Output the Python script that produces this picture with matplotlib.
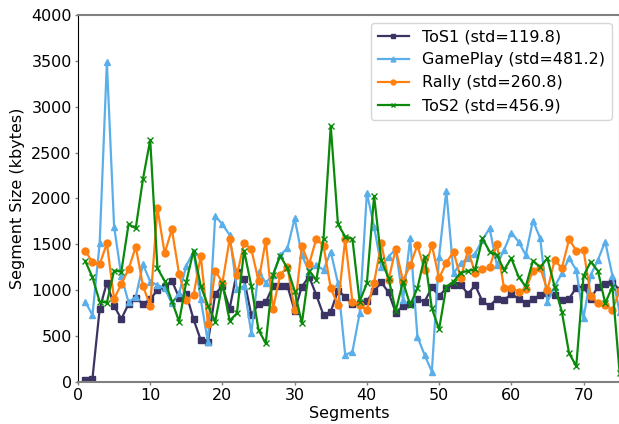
import numpy as np
import matplotlib
matplotlib.use("Agg")
import matplotlib.pyplot as plt

segments = list(range(1, 76))

tos1 = [20, 35, 796, 1083, 828, 687, 850, 919, 850, 900,
        1003, 1039, 1104, 919, 959, 683, 458, 432, 959, 1046,
        799, 1199, 1119, 730, 850, 868, 1046, 1046, 1046, 777,
        1039, 1148, 948, 727, 767, 995, 930, 846, 846, 883,
        992, 1086, 977, 756, 828, 850, 901, 876, 1032, 937,
        1020, 1061, 1061, 959, 1054, 879, 828, 908, 890, 962,
        908, 861, 901, 950, 973, 950, 894, 908, 1028, 1039,
        908, 1039, 1072, 1090, 1000]

gameplay = [876, 730, 1511, 3484, 1693, 1155, 868, 930, 1282, 1094,
            1057, 1021, 857, 966, 1268, 1420, 901, 432, 1809, 1718,
            1602, 1010, 1046, 530, 1203, 1083, 1166, 1384, 1457, 1784,
            1384, 1203, 1275, 1221, 1421, 1075, 294, 330, 749, 2060,
            1693, 1257, 1366, 1446, 894, 1566, 494, 294, 113, 1366,
            2085, 1185, 1293, 1348, 1400, 1548, 1675, 1275, 1439, 1628,
            1530, 1384, 1758, 1566, 875, 1039, 1185, 1348, 1221, 694,
            1166, 1330, 1530, 1160, 760]

rally = [1431, 1304, 1282, 1511, 905, 1068, 1228, 1475, 1046, 832,
         1893, 1402, 1664, 1177, 894, 948, 1373, 632, 1213, 1083,
         1555, 1163, 1511, 1446, 1101, 1540, 796, 1166, 1257, 785,
         1482, 1282, 1562, 1482, 1021, 839, 1555, 876, 839, 785,
         1083, 1511, 1112, 1453, 1101, 1275, 1490, 1221, 1493, 1130,
         1300, 1421, 1130, 1439, 1185, 1228, 1250, 1504, 1021, 1028,
         984, 1014, 1210, 1246, 1000, 1330, 1239, 1555, 1432, 1439,
         937, 858, 840, 785, 995]

tos2 = [1319, 1141, 876, 865, 1213, 1203, 1718, 1675, 2212, 2638,
        1239, 1101, 883, 658, 1094, 1431, 1046, 832, 658, 1075,
        668, 748, 1431, 1046, 567, 421, 1166, 1377, 1239, 992,
        639, 1213, 1112, 1555, 2790, 1718, 1584, 1559, 876, 1075,
        2027, 1330, 1130, 775, 1094, 839, 1021, 1366, 803, 574,
        1039, 1094, 1192, 1210, 1228, 1566, 1421, 1384, 1221, 1348,
        1148, 1039, 1322, 1250, 1348, 1039, 766, 313, 174, 1155,
        1311, 1210, 858, 1039, 100]

labels = ["ToS1 (std=119.8)", "GamePlay (std=481.2)", "Rally (std=260.8)", "ToS2 (std=456.9)"]

fig = plt.figure(figsize=(6.19, 4.24), dpi=100)
ax = fig.add_axes([0.126, 0.099, 0.875, 0.866])

ax.plot(segments, tos1, color="#3a3363", marker="s", markersize=4.5, linewidth=1.6, label=labels[0])
ax.plot(segments, gameplay, color="#5aafea", marker="^", markersize=5, linewidth=1.6, label=labels[1])
ax.plot(segments, rally, color="#ff8010", marker="o", markersize=5, linewidth=1.6, label=labels[2])
ax.plot(segments, tos2, color="#0a8a0a", marker="x", markersize=4.5, linewidth=1.6, label=labels[3])

ax.set_xlim(0, 75)
ax.set_ylim(0, 4000)
ax.set_xticks(range(0, 80, 10))
ax.set_yticks(range(0, 4001, 500))
ax.tick_params(labelsize=11.5, length=2.5, width=1, color="#808080", pad=2)
ax.set_xlabel("Segments", fontsize=11.5)
ax.set_ylabel("Segment Size (kbytes)", fontsize=11.5)
ax.xaxis.set_label_coords(0.5, -0.066)
ax.yaxis.set_label_coords(-0.098, 0.5)

for side in ["top", "bottom", "right"]:
    ax.spines[side].set_color("#808080")
    ax.spines[side].set_linewidth(1.5)
ax.spines["left"].set_color("black")

ax.legend(loc="upper right", fontsize=11.5, markerscale=0.7, handlelength=2.0)

fig.savefig("out.png", dpi=100)
